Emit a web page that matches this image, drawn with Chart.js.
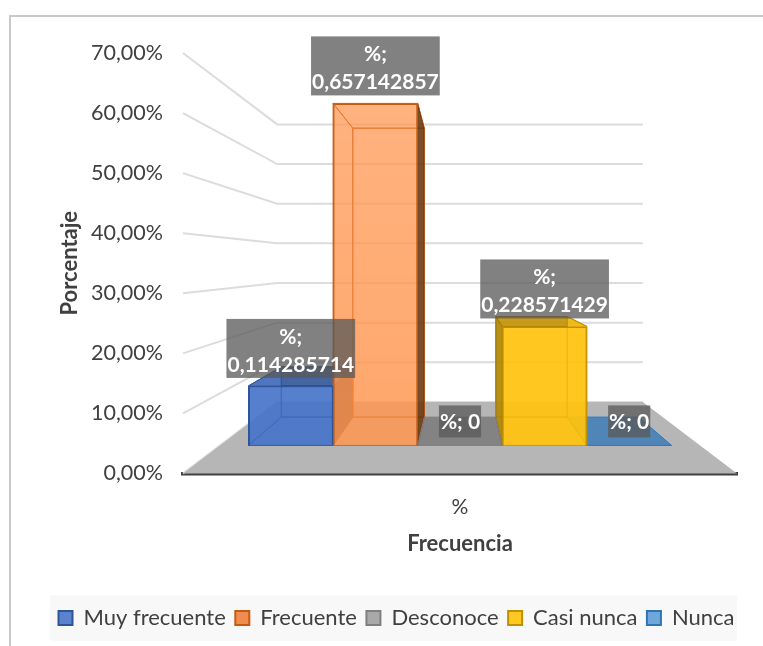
<!DOCTYPE html>
<html>
<head>
<meta charset="utf-8">
<title>Frecuencia</title>
<script src="https://cdn.jsdelivr.net/npm/chart.js@4/dist/chart.umd.js"></script>
<style>
  html, body { margin: 0; padding: 0; background: #fff; }
  #wrap { width: 763px; height: 646px; position: relative; }
</style>
</head>
<body>
<div id="wrap"><canvas id="myChart" width="763" height="646"></canvas></div>
<script>
var categories = ['%'];
var seriesNames = ['Muy frecuente', 'Frecuente', 'Desconoce', 'Casi nunca', 'Nunca'];
var seriesValues = [0.114285714, 0.657142857, 0, 0.228571429, 0];
var fillRgb = ['70,115,200', '255,150,80', '100,100,100', '255,195,15', '62,125,185'];
var sideAlpha = [0.68, 0.45, 0.62, 0.72, 0.85];
var frontTopAlpha = [0.68, 0.48, 0.62, 0.72, 0.85];
var frontBottomAlpha = [0.74, 0.74, 0.62, 0.76, 0.85];
var edgeColors = ['#2f5597', '#c55a11', '#7f7f7f', '#bf9000', '#2e75b6'];
var legendFills = ['#5b82cf', '#f08c4f', '#a9a9a9', '#ffc822', '#6fa7da'];
var yTicks = { min: 0, max: 0.7, step: 0.1 };

var FONT = 'Lato, Carlito, "Noto Sans", sans-serif';
var TEXT = '#404040';

// fake perspective, everything runs to one vanishing point
var vpY = 263;      // height of the vanishing point
var wallDepth = 0.66;  // back wall size relative to the front of the box
var barDepth = 0.845;  // back of a bar relative to its front face

function rgba(i, a) {
  return 'rgba(' + fillRgb[i] + ',' + a + ')';
}

function toBack(p, k, vpX) {
  return [vpX + (p[0] - vpX) * k, vpY + (p[1] - vpY) * k];
}

function quad(ctx, pts, fill, stroke, lw) {
  ctx.beginPath();
  ctx.moveTo(pts[0][0], pts[0][1]);
  for (var i = 1; i < pts.length; i++) ctx.lineTo(pts[i][0], pts[i][1]);
  ctx.closePath();
  if (fill) { ctx.fillStyle = fill; ctx.fill(); }
  if (stroke) { ctx.strokeStyle = stroke; ctx.lineWidth = lw || 1; ctx.stroke(); }
}

// frame, legend panel, walls and floor
var backdrop = {
  id: 'backdrop',
  afterLayout: function (chart) {
    // the legend sits off centre, move both ends so it does not wrap
    chart.legend.left += 28;
    chart.legend.right += 28;
  },
  beforeDraw: function (chart) {
    var ctx = chart.ctx;
    ctx.save();
    ctx.strokeStyle = '#c9c9c9';
    ctx.lineWidth = 2;
    ctx.beginPath();
    ctx.moveTo(10, 646);
    ctx.lineTo(10, 16);
    ctx.lineTo(763, 16);
    ctx.stroke();
    ctx.fillStyle = '#f8f8f8';
    ctx.fillRect(50, 595, 687, 46);
    ctx.restore();
  },
  beforeDatasetsDraw: function (chart) {
    var ctx = chart.ctx, y = chart.scales.y, a = chart.chartArea;
    var vpX = (a.left + a.right) / 2;
    ctx.save();
    y.ticks.forEach(function (t) {
      var py = y.getPixelForValue(t.value);
      var l = toBack([a.left, py], wallDepth, vpX);
      var r = toBack([a.right, py], wallDepth, vpX);
      ctx.strokeStyle = '#dcdcdc';
      ctx.lineWidth = 2;
      ctx.beginPath();
      ctx.moveTo(a.left, py);
      ctx.lineTo(l[0], l[1]);
      ctx.lineTo(r[0], r[1]);
      ctx.stroke();
    });
    var b = y.getPixelForValue(0);
    quad(ctx, [[a.left, b], [a.right, b], toBack([a.right, b], wallDepth, vpX), toBack([a.left, b], wallDepth, vpX)], '#b6b6b6');

    // sides of the bars, outer ones first so the middle ones sit over them
    var order = [0, 4, 1, 3, 2];
    order.forEach(function (i) {
      var bar = chart.getDatasetMeta(i).data[0];
      var x0 = bar.x - bar.width / 2, x1 = bar.x + bar.width / 2;
      var top = bar.y, base = bar.base;
      var edge = edgeColors[i], fill = rgba(i, sideAlpha[i]);
      var fl = [x0, base], fr = [x1, base], tl = [x0, top], tr = [x1, top];
      var bfl = toBack(fl, barDepth, vpX), bfr = toBack(fr, barDepth, vpX);
      var btl = toBack(tl, barDepth, vpX), btr = toBack(tr, barDepth, vpX);
      if (seriesValues[i] === 0) {
        quad(ctx, [fl, fr, bfr, bfl], fill, edge, 1);
        return;
      }
      quad(ctx, [btl, btr, bfr, bfl], fill, edge, 1); // back
      quad(ctx, [fl, fr, bfr, bfl], fill, edge, 1);   // bottom
      quad(ctx, [tl, tr, btr, btl], fill, edge, 1);   // top
      // seen from above the top face is darker
      if (top > vpY) quad(ctx, [tl, tr, btr, btl], 'rgba(0,0,0,0.22)');
      quad(ctx, [tl, btl, bfl, fl], fill, edge, 1);
      quad(ctx, [tr, btr, bfr, fr], fill, edge, 1);
      // the side turned away from the light
      if (x1 < vpX && btr[0] > x1) quad(ctx, [tr, btr, bfr, fr], 'rgba(60,30,0,0.68)');
      if (x0 > vpX && btl[0] < x0) quad(ctx, [tl, btl, bfl, fl], 'rgba(0,0,0,0.28)');
    });
    ctx.restore();
  }
};

// grey boxes with the value on top of every bar
var valueLabels = {
  id: 'valueLabels',
  afterDatasetsDraw: function (chart) {
    var ctx = chart.ctx;
    ctx.save();
    ctx.font = 'bold 21px ' + FONT;
    ctx.textAlign = 'center';
    ctx.textBaseline = 'middle';
    seriesValues.forEach(function (v, i) {
      var bar = chart.getDatasetMeta(i).data[0];
      var lines = v === 0 ? ['%; 0'] : ['%;', String(v).replace('.', ',')];
      var w = ctx.measureText(lines[lines.length - 1]).width + 2;
      var h = v === 0 ? 32 : 59;
      var bottom = bar.y - 8;
      ctx.fillStyle = 'rgba(89,89,89,0.76)';
      ctx.fillRect(bar.x - w / 2, bottom - h, w, h);
      ctx.fillStyle = '#fff';
      lines.forEach(function (s, n) {
        var cy = v === 0 ? bottom - h / 2 + 1 : bottom - h + 18 + n * 28;
        ctx.fillText(s, bar.x, cy);
      });
    });
    ctx.restore();
  }
};

var datasets = seriesNames.map(function (name, i) {
  return {
    label: name,
    data: [seriesValues[i]],
    yAxisID: 'barPlane',
    // front face gets a bit denser towards the floor
    backgroundColor: function (c) {
      var a = c.chart.chartArea;
      if (!a) return rgba(i, frontTopAlpha[i]);
      var g = c.chart.ctx.createLinearGradient(0, a.top, 0, a.bottom);
      g.addColorStop(0, rgba(i, frontTopAlpha[i]));
      g.addColorStop(1, rgba(i, frontBottomAlpha[i]));
      return g;
    },
    borderColor: edgeColors[i],
    borderWidth: 1.5
  };
});

new Chart(document.getElementById('myChart'), {
  type: 'bar',
  data: { labels: categories, datasets: datasets },
  plugins: [backdrop, valueLabels],
  options: {
    responsive: false,
    animation: false,
    categoryPercentage: 0.7635,
    barPercentage: 1,
    layout: { padding: { top: 53, right: 26, bottom: 7, left: 0 } },
    plugins: {
      tooltip: { enabled: false },
      legend: {
        position: 'bottom',
        labels: {
          color: TEXT,
          font: { family: FONT, size: 22 },
          boxWidth: 14,
          boxHeight: 14,
          padding: 9.5,
          generateLabels: function (chart) {
            return seriesNames.map(function (name, i) {
              return {
                text: name,
                fillStyle: legendFills[i],
                strokeStyle: edgeColors[i],
                lineWidth: 2,
                fontColor: TEXT,
                datasetIndex: i
              };
            });
          }
        }
      }
    },
    scales: {
      x: {
        grid: { display: false, drawTicks: false },
        border: { display: true, color: '#404040', width: 3.5 },
        ticks: { color: TEXT, font: { family: FONT, size: 21 }, padding: 21 },
        title: { display: true, text: 'Frecuencia', color: TEXT, font: { family: FONT, size: 22, weight: 'bold' }, padding: { top: 14, bottom: 40 } },
        afterFit: function (s) { s.height = 124; }
      },
      y: {
        position: 'left',
        min: yTicks.min,
        max: yTicks.max,
        grid: { display: false, drawTicks: false },
        border: { display: false },
        ticks: {
          stepSize: yTicks.step,
          color: TEXT,
          padding: 20,
          font: { family: FONT, size: 21.5 },
          callback: function (v) { return (v * 100).toFixed(2).replace('.', ',') + '%'; }
        },
        title: { display: true, text: 'Porcentaje', color: TEXT, font: { family: FONT, size: 22, weight: 'bold' }, padding: { top: 57, bottom: 0 } },
        afterFit: function (s) { s.width = 183; }
      },
      // the bars stand further back than the axis, so they get their own smaller scale
      barPlane: {
        position: 'left',
        display: false,
        min: -0.054,
        max: 0.754
      }
    }
  }
});
</script>
</body>
</html>
